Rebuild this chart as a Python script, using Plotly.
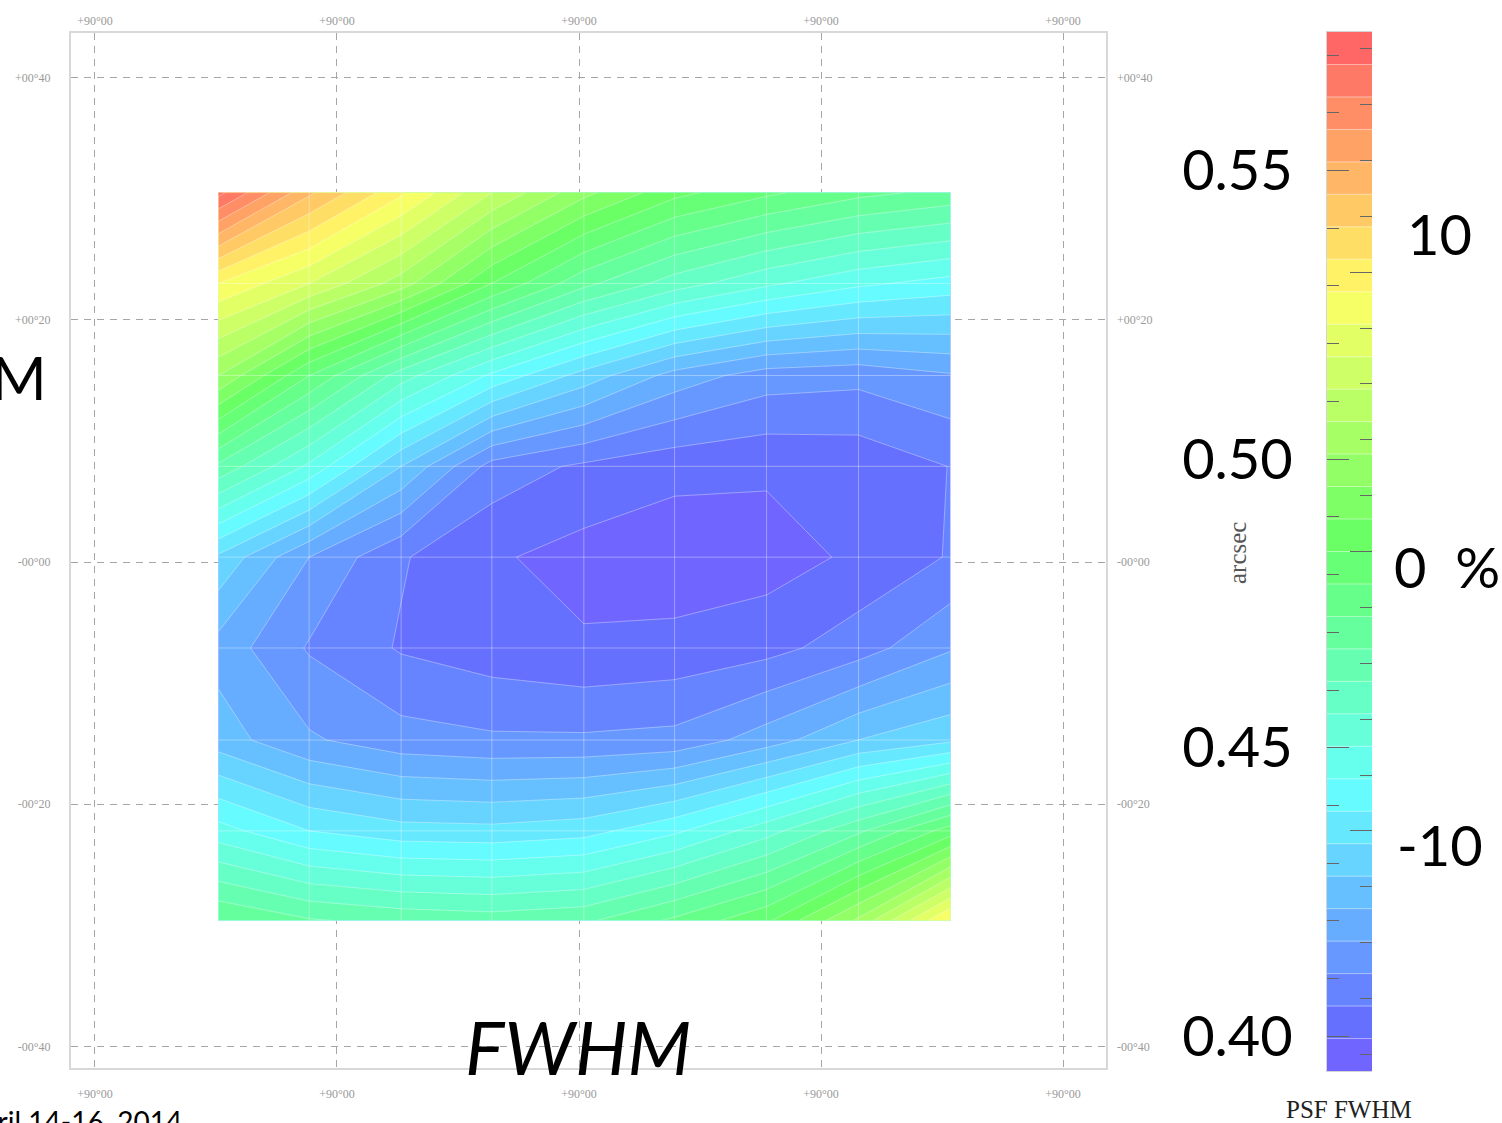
import plotly.graph_objects as go

# ---------------------------------------------------------------------------
# PSF FWHM map over the field of view (9 x 9 sampling grid)
# ---------------------------------------------------------------------------
# offsets from the field centre, arcmin
x_offsets = [-29.8, -22.3, -14.7, -7.2, 0.4, 7.9, 15.5, 23.1, 30.7]
y_offsets = [-29.6, -22.2, -14.7, -7.1, 0.4, 7.9, 15.4, 23.0, 30.5]

# measured FWHM in arcsec, one row per y offset (bottom row first)
fwhm_arcsec = [
    [0.4728, 0.4677, 0.4654, 0.4643, 0.4660, 0.4739, 0.4829, 0.5020, 0.5301],
    [0.4469, 0.4390, 0.4356, 0.4351, 0.4368, 0.4435, 0.4536, 0.4660, 0.4812],
    [0.4249, 0.4173, 0.4131, 0.4118, 0.4118, 0.4126, 0.4193, 0.4278, 0.4323],
    [0.4199, 0.4103, 0.4047, 0.4022, 0.4004, 0.4014, 0.4033, 0.4083, 0.4159],
    [0.4323, 0.4165, 0.4058, 0.4004, 0.3975, 0.3960, 0.3970, 0.4007, 0.4057],
    [0.4660, 0.4491, 0.4278, 0.4086, 0.4042, 0.4014, 0.4006, 0.4014, 0.4054],
    [0.5009, 0.4784, 0.4587, 0.4435, 0.4311, 0.4199, 0.4137, 0.4126, 0.4159],
    [0.5290, 0.5178, 0.5037, 0.4840, 0.4688, 0.4587, 0.4514, 0.4458, 0.4424],
    [0.5701, 0.5470, 0.5301, 0.5121, 0.4969, 0.4857, 0.4795, 0.4744, 0.4711],
]

# colour scale limits (arcsec), number of filled bands, and the 0 % reference
scale_min = 0.394
scale_max = 0.574
n_bands = 32
fwhm_ref = 0.484

# sky-coordinate grid and its labels
grid_ticks = [-40, -20, 0, 20, 40]
ra_labels = ["+90°00", "+90°00", "+90°00", "+90°00", "+90°00"]
dec_labels = ["-00°40", "-00°20", "-00°00", "+00°20", "+00°40"]

# percentage labels beside the colour bar
percent_vals = [10, 0, -10]
percent_text = ["10", "0  %", "-10"]

# ---------------------------------------------------------------------------
W, H = 1502, 1123


def px_x(p):
    return p / W


def px_y(p):
    return (H - p) / H


band = (scale_max - scale_min) / n_bands
contour_levels = dict(start=scale_min + band, end=scale_max - band, size=band,
                      coloring="fill", showlines=True)

# light rainbow: hue runs from violet-blue down to red
rainbow = [
    [0.0, "#7066ff"],
    [0.0164, "#6666ff"],
    [0.2623, "#66ffff"],
    [0.5082, "#66ff66"],
    [0.7541, "#ffff66"],
    [1.0, "#ff6666"],
]

fig = go.Figure()

# main FWHM map
fig.add_trace(go.Contour(
    x=x_offsets, y=y_offsets, z=fwhm_arcsec,
    colorscale=rainbow, autocontour=False, contours=contour_levels,
    line=dict(color="rgba(255,255,255,0.35)", width=1, smoothing=0),
    showscale=False, hoverinfo="skip",
))

# faint sampling mesh on top of the map
mesh_x, mesh_y = [], []
for yv in y_offsets:
    mesh_x += [x_offsets[0], x_offsets[-1], None]
    mesh_y += [yv, yv, None]
for xv in x_offsets:
    mesh_x += [xv, xv, None]
    mesh_y += [y_offsets[0], y_offsets[-1], None]
fig.add_trace(go.Scatter(
    x=mesh_x, y=mesh_y, mode="lines", xaxis="x2", yaxis="y2",
    line=dict(color="rgba(255,255,255,0.35)", width=1),
    hoverinfo="skip", showlegend=False,
))

# colour bar drawn as a contour of the scale itself
fig.add_trace(go.Contour(
    x=[0, 1], y=[scale_min, scale_max],
    z=[[scale_min, scale_min], [scale_max, scale_max]],
    xaxis="x3", yaxis="y3",
    colorscale=rainbow, autocontour=False, contours=contour_levels,
    line=dict(color="rgba(255,255,255,0.45)", width=1, smoothing=0),
    showscale=False, hoverinfo="skip",
))

x_range = [-41.98, 43.55]
y_range = [-41.78, 43.68]
small_font = dict(family="Liberation Serif", size=12, color="#9a9a9a")
big_font = dict(family="Lato", size=56, color="#000000")
frame = dict(showline=True, mirror=True, linecolor="#d8d8d8", linewidth=2)
grid = dict(showgrid=True, gridcolor="#a6a6a6", gridwidth=1.2, griddash="7px,6px")

fig.update_layout(
    width=W, height=H, autosize=False,
    margin=dict(l=0, r=0, t=0, b=0),
    paper_bgcolor="white", plot_bgcolor="white",
    showlegend=False, hovermode=False,
    xaxis=dict(domain=[px_x(71), px_x(1106)], range=x_range, anchor="y",
               tickmode="array", tickvals=grid_ticks, ticktext=ra_labels,
               ticks="", zeroline=False, tickfont=small_font,
               ticklabelstandoff=14, **frame, **grid),
    yaxis=dict(domain=[px_y(1068), px_y(33)], range=y_range, anchor="x",
               tickmode="array", tickvals=grid_ticks, ticktext=dec_labels,
               ticks="", zeroline=False, tickfont=small_font,
               ticklabelstandoff=16, **frame, **grid),
    xaxis2=dict(overlaying="x", side="top", range=x_range, anchor="y2",
                tickmode="array", tickvals=grid_ticks, ticktext=ra_labels,
                ticks="", showgrid=False, zeroline=False, showline=False,
                tickfont=small_font, ticklabelstandoff=5),
    yaxis2=dict(overlaying="y", side="right", range=y_range, anchor="x2",
                tickmode="array", tickvals=grid_ticks, ticktext=dec_labels,
                ticks="", showgrid=False, zeroline=False, showline=False,
                tickfont=small_font, ticklabelstandoff=10),
    xaxis3=dict(domain=[px_x(1327), px_x(1372)], range=[0, 1], anchor="y3",
                showticklabels=False, ticks="", showgrid=False, zeroline=False,
                showline=True, mirror=True, linecolor="#d4d4d4", linewidth=1),
    yaxis3=dict(domain=[px_y(1071), px_y(32)], range=[scale_min, scale_max],
                anchor="x3", side="left", tick0=0.40, dtick=0.05,
                tickformat=".2f", ticks="inside", ticklen=22, tickwidth=1,
                tickcolor="#666666", tickfont=big_font, ticklabelstandoff=22,
                minor=dict(ticks="inside", tick0=0.40, dtick=0.01, ticklen=12,
                           tickwidth=1, tickcolor="#666666"),
                showgrid=False, zeroline=False,
                showline=True, linecolor="#d4d4d4", linewidth=1),
    yaxis4=dict(overlaying="y3", side="right", anchor="x3",
                range=[(scale_min / fwhm_ref - 1) * 100,
                       (scale_max / fwhm_ref - 1) * 100],
                tick0=0, dtick=10, ticks="inside", ticklen=22, tickwidth=1,
                tickcolor="#666666", showticklabels=False,
                minor=dict(ticks="inside", tick0=0, dtick=2, ticklen=12,
                           tickwidth=1, tickcolor="#666666"),
                showgrid=False, zeroline=False),
)

annotations = []
label_left = {10: 1405, 0: 1392, -10: 1395}
label_shift = {10: 39, 0: -15, -10: -14}
for val, txt in zip(percent_vals, percent_text):
    annotations.append(dict(
        text=txt, xref="paper", yref="y4", x=px_x(label_left[val]), y=val,
        xanchor="left", yanchor="middle", yshift=label_shift[val],
        showarrow=False, font=big_font))

annotations += [
    dict(text="M", xref="paper", yref="paper", x=px_x(49), y=px_y(377),
         xanchor="right", yanchor="middle", showarrow=False,
         font=dict(family="Lato", size=60, color="#000000")),
    dict(text="<i>FWHM</i>", xref="paper", yref="paper", x=px_x(578),
         y=px_y(1046), xanchor="center", yanchor="middle", showarrow=False,
         font=dict(family="Lato", size=74, color="#000000")),
    dict(text="April 14-16, 2014", xref="paper", yref="paper", x=px_x(184),
         y=px_y(1102), xanchor="right", yanchor="top", showarrow=False,
         font=dict(family="Lato", size=28, color="#000000")),
    dict(text="arcsec", xref="paper", yref="paper", x=px_x(1237),
         y=px_y(553), xanchor="center", yanchor="middle", textangle=-90,
         showarrow=False,
         font=dict(family="Liberation Serif", size=25, color="#555555")),
    dict(text="PSF FWHM", xref="paper", yref="paper", x=px_x(1349),
         y=px_y(1109), xanchor="center", yanchor="middle", showarrow=False,
         font=dict(family="Liberation Serif", size=25, color="#222222")),
]
fig.update_layout(annotations=annotations)

fig.write_html("out.html")
